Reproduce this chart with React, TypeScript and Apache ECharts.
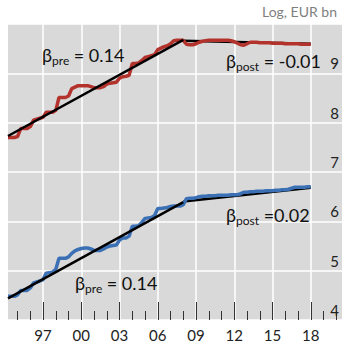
import React, { useEffect, useRef } from 'react';
import * as echarts from 'echarts';

const START = 1994.25;
const STEP = 0.25;

const redValues = [
  7.50, 7.50, 7.50,
  7.52, 7.68, 7.68, 7.68,
  7.72, 7.85, 7.87, 7.89,
  7.91, 8.01, 8.01, 8.01,
  8.05, 8.31, 8.31, 8.31,
  8.34, 8.49, 8.52, 8.55,
  8.55, 8.55, 8.55, 8.53,
  8.51, 8.51, 8.51, 8.53,
  8.58, 8.60, 8.61, 8.62,
  8.70, 8.73, 8.74, 8.76,
  9.00, 9.00, 9.01, 9.06,
  9.12, 9.14, 9.16, 9.18,
  9.28, 9.31, 9.34, 9.36,
  9.40, 9.46, 9.47, 9.47,
  9.47, 9.39, 9.38, 9.38,
  9.40, 9.43, 9.45, 9.46,
  9.47, 9.47, 9.47, 9.47,
  9.47, 9.47, 9.47, 9.46,
  9.44, 9.41, 9.38, 9.37,
  9.40, 9.43, 9.43, 9.43,
  9.42, 9.42, 9.42, 9.42,
  9.41, 9.41, 9.41, 9.41,
  9.40, 9.40, 9.40, 9.40,
  9.40, 9.39, 9.39, 9.39,
  9.39,
];

const blueValues = [
  4.28, 4.28, 4.28,
  4.31, 4.40, 4.40, 4.40,
  4.45, 4.55, 4.57, 4.59,
  4.62, 4.75, 4.76, 4.77,
  4.83, 5.05, 5.05, 5.05,
  5.08, 5.15, 5.20, 5.23,
  5.25, 5.26, 5.26, 5.24,
  5.21, 5.21, 5.21, 5.24,
  5.28, 5.30, 5.31, 5.32,
  5.42, 5.46, 5.46, 5.50,
  5.70, 5.70, 5.71, 5.78,
  5.86, 5.87, 5.88, 5.92,
  6.06, 6.06, 6.07, 6.08,
  6.10, 6.11, 6.11, 6.11,
  6.14, 6.26, 6.27, 6.27,
  6.28, 6.30, 6.31, 6.31,
  6.32, 6.32, 6.32, 6.33,
  6.33, 6.33, 6.33, 6.34,
  6.34, 6.34, 6.36, 6.39,
  6.39, 6.40, 6.40, 6.41,
  6.41, 6.41, 6.42, 6.42,
  6.42, 6.43, 6.43, 6.44,
  6.44, 6.45, 6.47, 6.49,
  6.49, 6.49, 6.49, 6.50,
  6.50,
];

const redPre = [[1994.25, 7.53], [2008.0, 9.48]];
const redPost = [[2008.0, 9.46], [2018.0, 9.40]];
const bluePre = [[1994.25, 4.24], [2008.0, 6.19]];
const bluePost = [[2008.0, 6.20], [2018.0, 6.48]];

const majorYears = [1997, 2000, 2003, 2006, 2009, 2012, 2015, 2018];
const minorYears = [1995, 1996, 1997, 1998, 1999, 2000, 2001, 2002, 2003, 2004, 2005, 2006, 2007, 2008, 2009, 2010, 2011, 2012, 2013, 2014, 2015, 2016, 2017, 2018, 2019, 2020];
const yLabels = [4, 5, 6, 7, 8, 9];

const FONT = 'Lato, "Noto Sans", sans-serif';

const toPairs = (vals: number[]) => vals.map((v, i) => [START + i * STEP, v]);

const annot = (left: number, top: number, sub: string, rest: string) => ({
  type: 'text',
  left,
  top,
  z: 10,
  style: {
    text: `{b|β}{s|${sub}}{t|${rest}}`,
    fill: '#111',
    rich: {
      b: { fontSize: 18, lineHeight: 22, fontFamily: FONT, fill: '#111' },
      s: { fontSize: 12, lineHeight: 12, verticalAlign: 'bottom', fontFamily: FONT, fill: '#111' },
      t: { fontSize: 18, lineHeight: 22, fontFamily: FONT, fill: '#111' },
    },
  },
});

export default function App() {
  const ref = useRef<HTMLDivElement>(null);
  useEffect(() => {
    const chart = echarts.init(ref.current!, null, { renderer: 'svg' });
    const trend = (data: number[][], z: number) => ({
      type: 'line',
      data,
      showSymbol: false,
      silent: true,
      z,
      lineStyle: { color: '#000', width: 2.5 },
      itemStyle: { color: '#000' },
    });
    chart.setOption({
      animation: false,
      grid: { left: 8, right: 0, top: 24, bottom: 26, show: true, backgroundColor: '#d9d9d9', borderWidth: 0 },
      xAxis: [
        {
          type: 'value', min: 1994.25, max: 2020.45, position: 'bottom',
          axisLine: { show: false },
          axisTick: { show: true, inside: true, length: 18, customValues: majorYears, lineStyle: { color: '#333', width: 1 } },
          axisLabel: {
            customValues: majorYears,
            formatter: (v: number) => String(Math.round(v)).slice(2),
            fontSize: 15, color: '#222', margin: 7, fontFamily: FONT,
          },
          splitLine: { show: true, lineStyle: { color: '#fff', width: 1.5 } },
        },
        {
          type: 'value', min: 1994.25, max: 2020.45, position: 'bottom',
          axisLine: { show: false },
          axisTick: { show: true, inside: true, length: 9, customValues: minorYears, lineStyle: { color: '#333', width: 1 } },
          axisLabel: { show: false },
          splitLine: { show: false },
        },
      ],
      yAxis: {
        type: 'value', min: 3.8, max: 9.8, interval: 1, position: 'right',
        axisLine: { show: false },
        axisTick: { show: false },
        axisLabel: { inside: true, customValues: yLabels, fontSize: 15, color: '#222', margin: 3, fontFamily: FONT },
        splitLine: { show: true, lineStyle: { color: '#fff', width: 1.5 } },
      },
      series: [
        trend(redPost, 1),
        trend(bluePost, 1),
        {
          type: 'line', data: toPairs(redValues), showSymbol: false, z: 2,
          lineStyle: { color: '#b3322c', width: 3.5 }, itemStyle: { color: '#b3322c' },
        },
        {
          type: 'line', data: toPairs(blueValues), showSymbol: false, z: 2,
          lineStyle: { color: '#3b70b5', width: 3.5 }, itemStyle: { color: '#3b70b5' },
        },
        trend(redPre, 3),
        trend(bluePre, 3),
      ],
      graphic: [
        { type: 'text', right: 5, top: 4, style: { text: 'Log, EUR bn', fontSize: 14, fontFamily: FONT, fill: '#7f7f7f' } },
        annot(42, 46, 'pre', ' = 0.14'),
        annot(226, 52, 'post', ' = -0.01'),
        annot(226, 206, 'post', ' =0.02'),
        annot(75, 274, 'pre', ' = 0.14'),
      ],
    });
    return () => chart.dispose();
  }, []);
  return <div ref={ref} style={{ position: 'absolute', left: 0, top: 0, width: 342, height: 346 }} />;
}
